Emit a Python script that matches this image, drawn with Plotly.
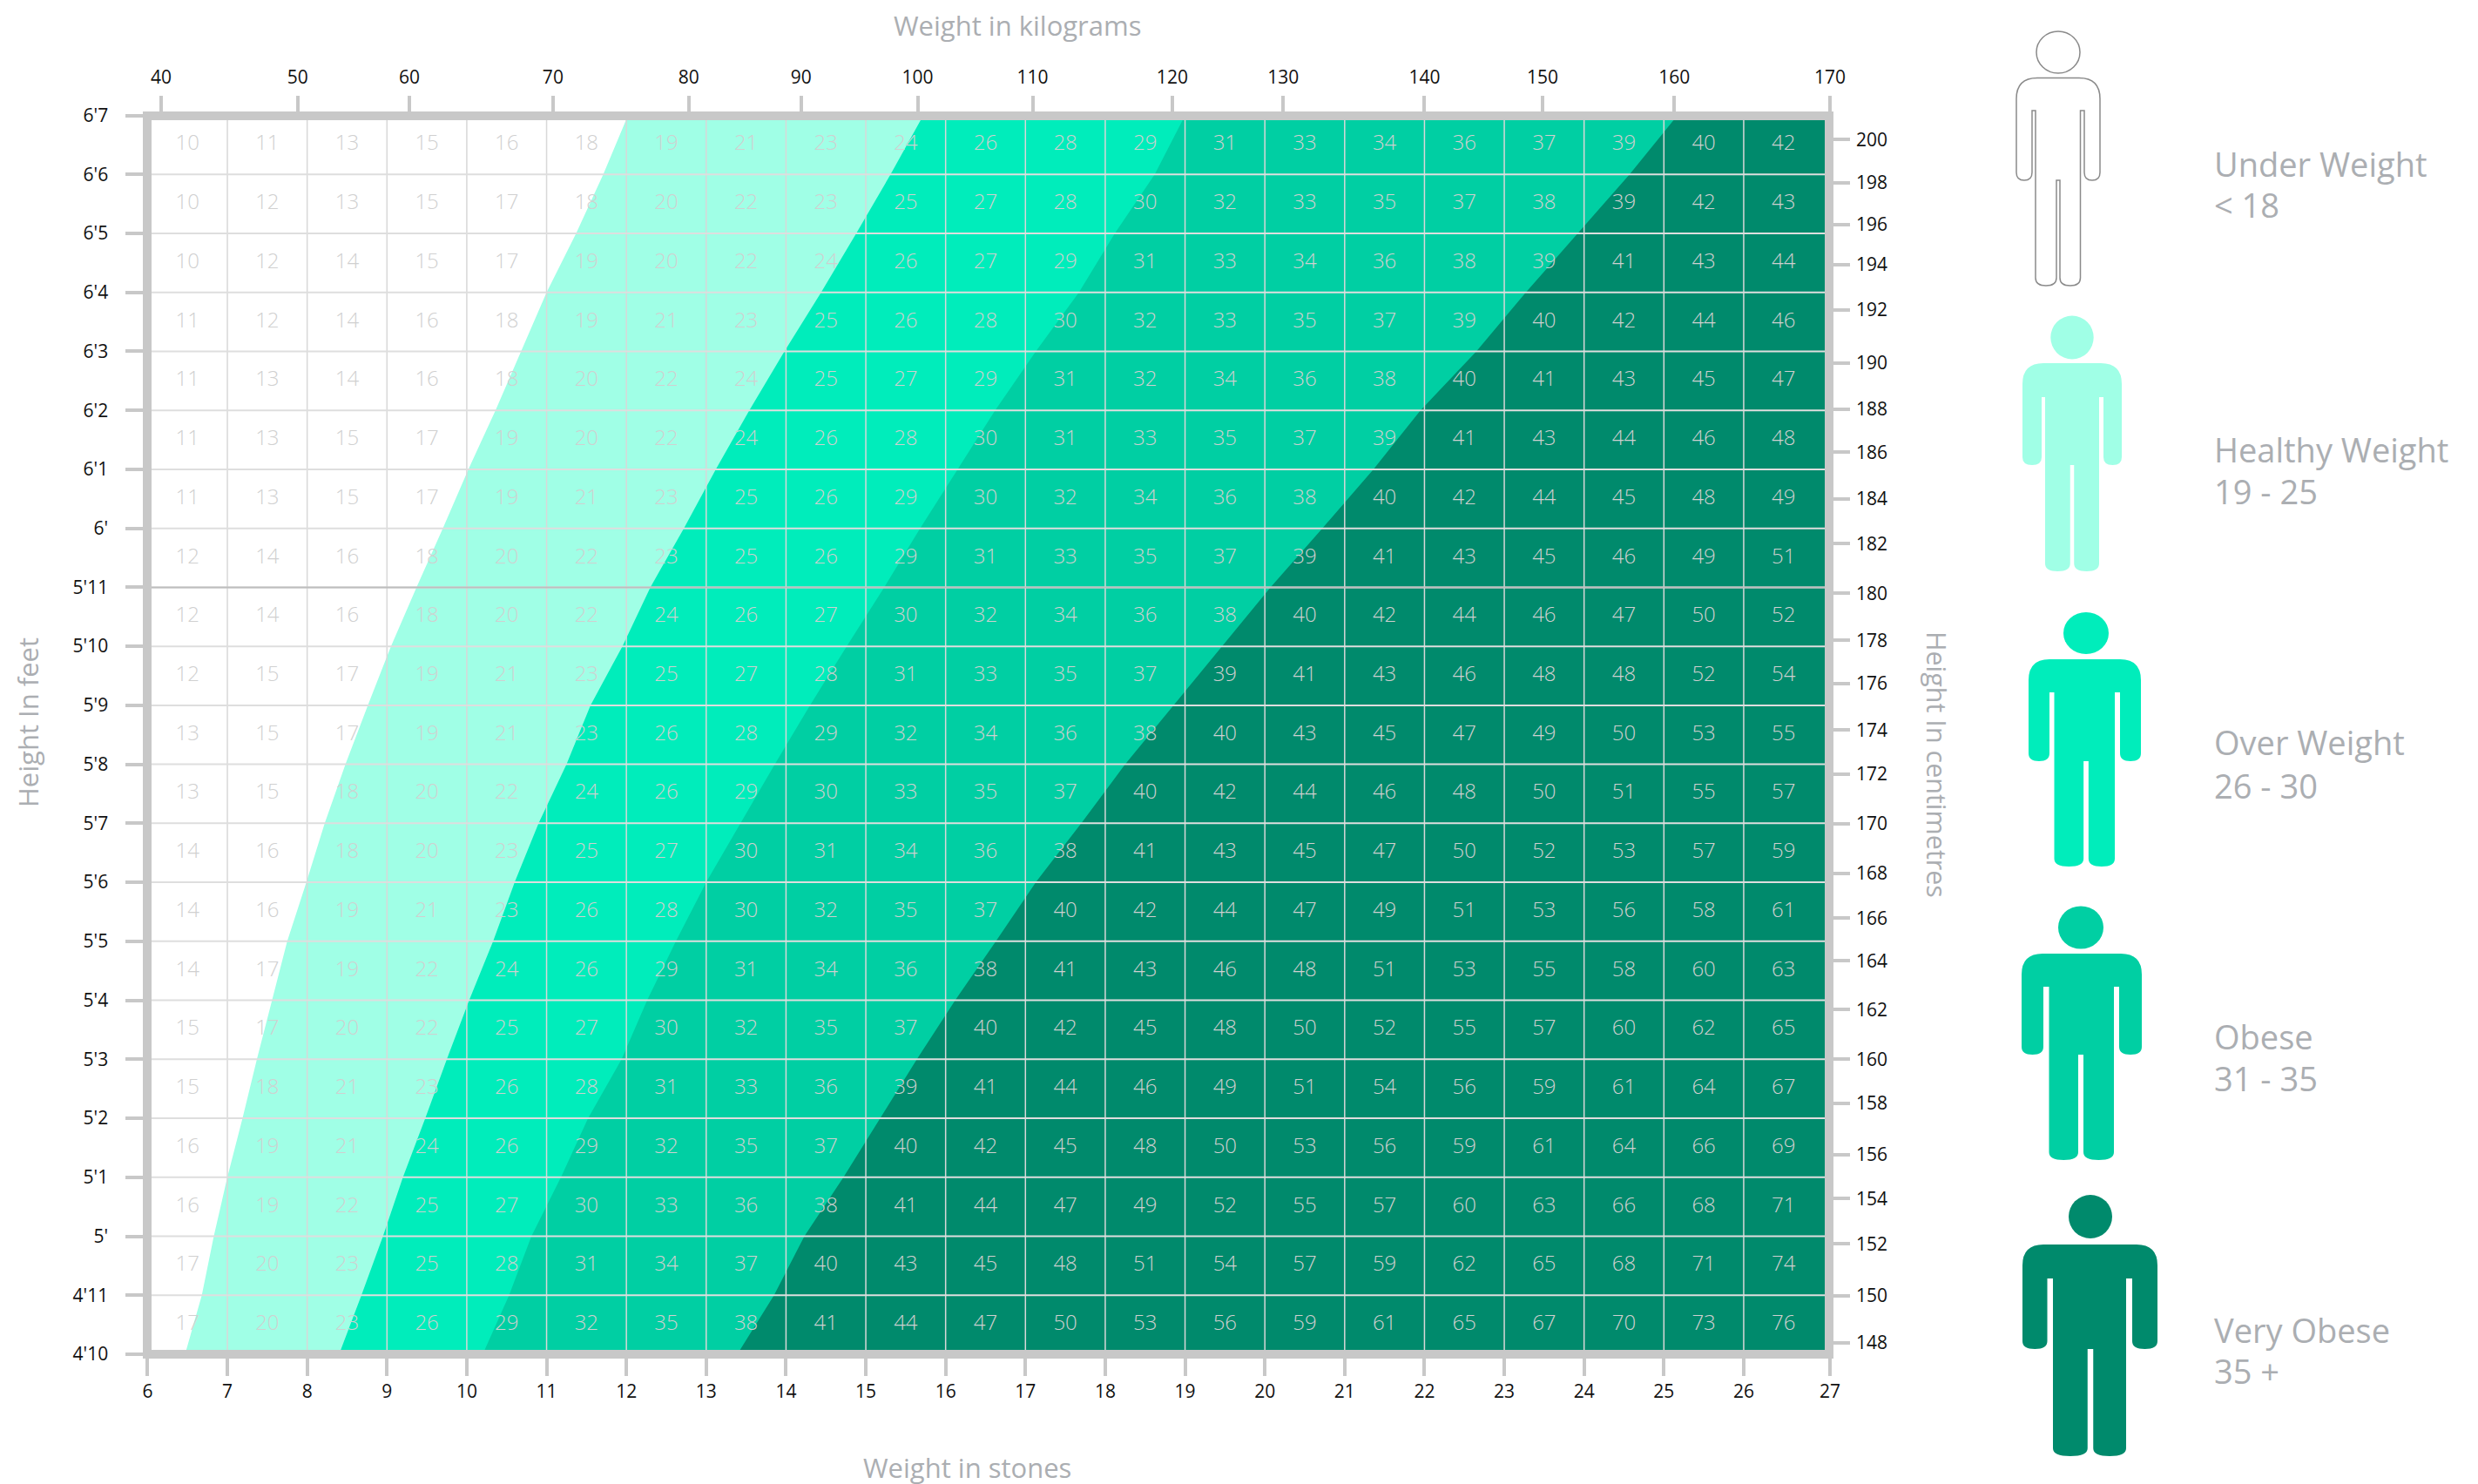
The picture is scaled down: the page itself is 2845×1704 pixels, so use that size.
import plotly.graph_objects as go

W, H = 2845, 1704
# the figure sits at (OX, OY) on the page
OX, OY = 8, 8
FW, FH = 2829, 1704

# ---------- data ----------
stones = list(range(6, 28))
feet_labels = ["4'10","4'11","5'","5'1","5'2","5'3","5'4","5'5","5'6","5'7","5'8","5'9","5'10","5'11",
               "6'","6'1","6'2","6'3","6'4","6'5","6'6","6'7"]
height_in = list(range(58, 80))

kg_labels = [40,50,60,70,80,90,100,110,120,130,140,150,160,170]
kg_pos = [6.17,7.88,9.28,11.08,12.78,14.19,15.65,17.09,18.84,20.23,22.0,23.48,25.13,27.08]

cm_labels = [200,198,196,194,192,190,188,186,184,182,180,178,176,174,172,170,168,166,164,162,160,158,156,154,152,150,148]
cm_pos = [78.59,77.86,77.15,76.47,75.70,74.80,74.02,73.29,72.50,71.74,70.90,70.10,69.37,68.58,67.83,66.99,
          66.15,65.39,64.67,63.84,63.0,62.25,61.38,60.64,59.87,58.99,58.19]

# Where each category begins (stones), for every height in height_in
under_healthy = [6.47,6.68,6.83,7.0,7.19,7.37,7.56,7.75,7.99,8.22,8.48,8.76,9.05,9.37,9.7,10.02,10.36,10.68,11.0,11.37,11.71,12.02]
healthy_over  = [8.40,8.68,8.95,9.2,9.48,9.75,10.03,10.33,10.6,10.9,11.25,11.55,11.95,12.3,12.72,13.12,13.54,13.98,14.44,14.88,15.31,15.72]
over_obese    = [10.2,10.53,10.81,11.18,11.52,11.94,12.26,12.62,13.0,13.43,13.86,14.3,14.76,15.23,15.68,16.15,16.62,17.13,17.67,18.12,18.62,19.0]
obese_very    = [13.39,13.85,14.23,14.72,15.18,15.64,16.12,16.63,17.13,17.7,18.25,18.86,19.46,20.07,20.72,21.36,21.95,22.65,23.27,23.92,24.57,25.17]

# BMI labels, top row (6'7) first, left to right (6-7 stones ... 26-27 stones)
bmi_rows = [
 [10,11,13,15,16,18,19,21,23,24,26,28,29,31,33,34,36,37,39,40,42],
 [10,12,13,15,17,18,20,22,23,25,27,28,30,32,33,35,37,38,39,42,43],
 [10,12,14,15,17,19,20,22,24,26,27,29,31,33,34,36,38,39,41,43,44],
 [11,12,14,16,18,19,21,23,25,26,28,30,32,33,35,37,39,40,42,44,46],
 [11,13,14,16,18,20,22,24,25,27,29,31,32,34,36,38,40,41,43,45,47],
 [11,13,15,17,19,20,22,24,26,28,30,31,33,35,37,39,41,43,44,46,48],
 [11,13,15,17,19,21,23,25,26,29,30,32,34,36,38,40,42,44,45,48,49],
 [12,14,16,18,20,22,23,25,26,29,31,33,35,37,39,41,43,45,46,49,51],
 [12,14,16,18,20,22,24,26,27,30,32,34,36,38,40,42,44,46,47,50,52],
 [12,15,17,19,21,23,25,27,28,31,33,35,37,39,41,43,46,48,48,52,54],
 [13,15,17,19,21,23,26,28,29,32,34,36,38,40,43,45,47,49,50,53,55],
 [13,15,18,20,22,24,26,29,30,33,35,37,40,42,44,46,48,50,51,55,57],
 [14,16,18,20,23,25,27,30,31,34,36,38,41,43,45,47,50,52,53,57,59],
 [14,16,19,21,23,26,28,30,32,35,37,40,42,44,47,49,51,53,56,58,61],
 [14,17,19,22,24,26,29,31,34,36,38,41,43,46,48,51,53,55,58,60,63],
 [15,17,20,22,25,27,30,32,35,37,40,42,45,48,50,52,55,57,60,62,65],
 [15,18,21,23,26,28,31,33,36,39,41,44,46,49,51,54,56,59,61,64,67],
 [16,19,21,24,26,29,32,35,37,40,42,45,48,50,53,56,59,61,64,66,69],
 [16,19,22,25,27,30,33,36,38,41,44,47,49,52,55,57,60,63,66,68,71],
 [17,20,23,25,28,31,34,37,40,43,45,48,51,54,57,59,62,65,68,71,74],
 [17,20,23,26,29,32,35,38,41,44,47,50,53,56,59,61,65,67,70,73,76],
]

categories = ["Under Weight", "Healthy Weight", "Over Weight", "Obese", "Very Obese"]
ranges = ["< 18", "19 - 25", "26 - 30", "31 - 35", "35 +"]

# ---------- styles ----------
C_HEALTHY, C_OVER, C_OBESE, C_VERY = "#A0FFE6", "#00EDBB", "#00CFA3", "#008A6C"
FRAME = "#C8C8C8"
TITLE = "#ABAEB2"
NUM = "rgb(208,208,208)"
TICKF = "Open Sans, sans-serif"
TEXTF = "Open Sans, sans-serif"

# plot rectangle, in page pixels
PL, PR, PT, PB = 169.4, 2100.9, 132.5, 1555.0
X_MAX = 27.08

fig = go.Figure()

# bands
for boundary, col, name in [(under_healthy, C_HEALTHY, "Healthy"), (healthy_over, C_OVER, "Over"),
                            (over_obese, C_OBESE, "Obese"), (obese_very, C_VERY, "Very obese")]:
    fig.add_trace(go.Scatter(x=boundary + [X_MAX, X_MAX], y=height_in + [79, 58], mode="lines",
                             fill="toself", fillcolor=col, line=dict(width=0), name=name,
                             hoverinfo="skip", showlegend=False))

# grid (above the bands, below the numbers)
gx, gy = [], []
for s in stones[1:-1]:
    gx += [s, s, None]; gy += [58, 79, None]
fig.add_trace(go.Scatter(x=gx, y=gy, mode="lines", line=dict(color="rgb(216,216,216)", width=1.5),
                         hoverinfo="skip", showlegend=False))
gx, gy = [], []
for h in height_in[1:-1]:
    gx += [6, X_MAX, None]; gy += [h, h, None]
fig.add_trace(go.Scatter(x=gx, y=gy, mode="lines", line=dict(color="rgb(222,222,222)", width=2),
                         hoverinfo="skip", showlegend=False))
fig.add_trace(go.Scatter(x=[6, X_MAX], y=[71, 71], mode="lines", line=dict(color="rgb(190,190,190)", width=2),
                         hoverinfo="skip", showlegend=False))

# numbers
tx, ty, tt = [], [], []
for r, row in enumerate(bmi_rows):
    for c, v in enumerate(row):
        tx.append(stones[c] + 0.5)
        ty.append(height_in[-1 - r] - 0.5)
        tt.append(str(v))
fig.add_trace(go.Scatter(x=tx, y=ty, text=tt, mode="text", textposition="middle center",
                         textfont=dict(family=TICKF, size=24, color=NUM, weight=300), hoverinfo="skip", showlegend=False))

# carriers for the secondary axes and for the page-pixel layer
fig.add_trace(go.Scatter(x=[None], y=[None], xaxis="x2", yaxis="y", showlegend=False, hoverinfo="skip"))
fig.add_trace(go.Scatter(x=[None], y=[None], xaxis="x", yaxis="y2", showlegend=False, hoverinfo="skip"))
fig.add_trace(go.Scatter(x=[None], y=[None], xaxis="x3", yaxis="y3", showlegend=False, hoverinfo="skip"))

tickfont = dict(family=TICKF, size=21, color="#111111")
common = dict(showgrid=False, zeroline=False, showline=False, ticks="outside", tickcolor=FRAME, automargin=False,
              tickwidth=3.5, tickfont=tickfont, tickmode="array")
dom_x = [(PL - OX) / FW, (PR - OX) / FW]
dom_y = [1 - (PB - OY) / FH, 1 - (PT - OY) / FH]

fig.update_layout(
    width=FW, height=FH, autosize=False, margin=dict(l=0, r=0, t=0, b=0, autoexpand=False),
    paper_bgcolor="white", plot_bgcolor="rgba(0,0,0,0)", showlegend=False,
    xaxis=dict(domain=dom_x, range=[6, X_MAX], tickvals=stones[:-1] + [X_MAX], ticktext=[str(s) for s in stones],
               ticklen=24, side="bottom", anchor="y", ticklabelstandoff=0, **common),
    xaxis2=dict(range=[6, X_MAX], overlaying="x", side="top", anchor="y", tickvals=kg_pos,
                ticktext=[str(k) for k in kg_labels], ticklen=22, ticklabelstandoff=5, **common),
    yaxis=dict(domain=dom_y, range=[58, 79], tickvals=height_in, ticktext=feet_labels,
               ticklen=24, side="left", anchor="x", ticklabelstandoff=16, **common),
    yaxis2=dict(range=[58, 79], overlaying="y", side="right", anchor="x", tickvals=cm_pos,
                ticktext=[str(c) for c in cm_labels], ticklen=22, ticklabelstandoff=3, **common),
    xaxis3=dict(domain=[0, 1], range=[OX, OX + FW], visible=False, anchor="y3", automargin=False),
    yaxis3=dict(domain=[0, 1], range=[OY + FH, OY], visible=False, anchor="x3", automargin=False),
)

shapes = [dict(type="rect", xref="x3", yref="y3", x0=169, x1=2100, y0=133, y1=1555,
               line=dict(color=FRAME, width=10), fillcolor="rgba(0,0,0,0)", layer="above")]


def person_paths(p):
    cx, ol, or_, il, ir, tl, tr = p["cx"], p["ol"], p["or"], p["il"], p["ir"], p["tl"], p["tr"]
    sh, pit, armb, bot, g = p["sh"], p["pit"], p["armb"], p["bot"], p["gap"] / 2
    sr, sv, cap = 24, 24, 9
    d = (f"M{ol+sr},{sh} L{or_-sr},{sh} Q{or_},{sh} {or_},{sh+sv} L{or_},{armb-cap} "
         f"Q{or_},{armb} {(or_+ir)/2},{armb} Q{ir},{armb} {ir},{armb-cap} L{ir},{pit} L{tr},{pit} "
         f"L{tr},{bot-cap} Q{tr},{bot} {(tr+cx+g)/2},{bot} Q{cx+g},{bot} {cx+g},{bot-cap} "
         f"L{cx+g},{armb} L{cx-g},{armb} L{cx-g},{bot-cap} Q{cx-g},{bot} {(tl+cx-g)/2},{bot} "
         f"Q{tl},{bot} {tl},{bot-cap} L{tl},{pit} L{il},{pit} L{il},{armb-cap} "
         f"Q{il},{armb} {(ol+il)/2},{armb} Q{ol},{armb} {ol},{armb-cap} L{ol},{sh+sv} Q{ol},{sh} {ol+sr},{sh} Z")
    return d


people = [
    dict(cx=2363, hy=60, rx=25, ry=24, sh=89.5, ol=2315, **{"or": 2411}, il=2333, ir=2393, tl=2337, tr=2388.5,
         pit=127, armb=207, bot=328, gap=4, fill="white", line="#8A8A8A"),
    dict(cx=2379, hy=387.5, rx=24.7, ry=25, sh=417, ol=2322, **{"or": 2436}, il=2344, ir=2415, tl=2348, tr=2410,
         pit=456, armb=534, bot=656, gap=4.5, fill=C_HEALTHY, line=None),
    dict(cx=2395, hy=727, rx=26, ry=24, sh=757, ol=2329, **{"or": 2458}, il=2353, ir=2434, tl=2358.5, tr=2428,
         pit=795, armb=874, bot=995, gap=5.7, fill=C_OVER, line=None),
    dict(cx=2389, hy=1065, rx=26, ry=24.6, sh=1095, ol=2321, **{"or": 2459}, il=2346, ir=2433, tl=2352.5, tr=2427,
         pit=1133, armb=1211, bot=1332, gap=6, fill=C_OBESE, line=None),
    dict(cx=2400, hy=1397, rx=25, ry=25, sh=1429, ol=2322, **{"or": 2477}, il=2350.5, ir=2448, tl=2357, tr=2441,
         pit=1468, armb=1549, bot=1672, gap=6.5, fill=C_VERY, line=None),
]
for p in people:
    ln = dict(color=p["line"], width=1.5) if p["line"] else dict(width=0)
    shapes.append(dict(type="path", xref="x3", yref="y3", path=person_paths(p), fillcolor=p["fill"], line=ln, layer="above"))
    shapes.append(dict(type="circle", xref="x3", yref="y3", x0=p["cx"] - p["rx"], x1=p["cx"] + p["rx"],
                       y0=p["hy"] - p["ry"], y1=p["hy"] + p["ry"], fillcolor=p["fill"], line=ln, layer="above"))
fig.update_layout(shapes=shapes)


def note(text, x, y, size, anchor="left", angle=0):
    fig.add_annotation(text=text, x=x, y=y, xref="x3", yref="y3", showarrow=False, xanchor=anchor, yanchor="middle",
                       textangle=angle, font=dict(family=TEXTF, size=size, color=TITLE))


note("Weight in kilograms", 1168, 29, 31, "center")
note("Weight in stones", 1110, 1685, 31, "center")
note("Height In feet", 32, 830, 31, "center", -90)
note("Height In centimetres", 2224, 878, 30.5, "center", 90)

legend_y = [(188, 235), (516, 564), (852, 902), (1190, 1238), (1527, 1574)]
for cat, rng, (y1, y2) in zip(categories, ranges, legend_y):
    note(cat, 2540, y1, 38)
    note(rng, 2540, y2, 38)

fig.write_html("out.html")
